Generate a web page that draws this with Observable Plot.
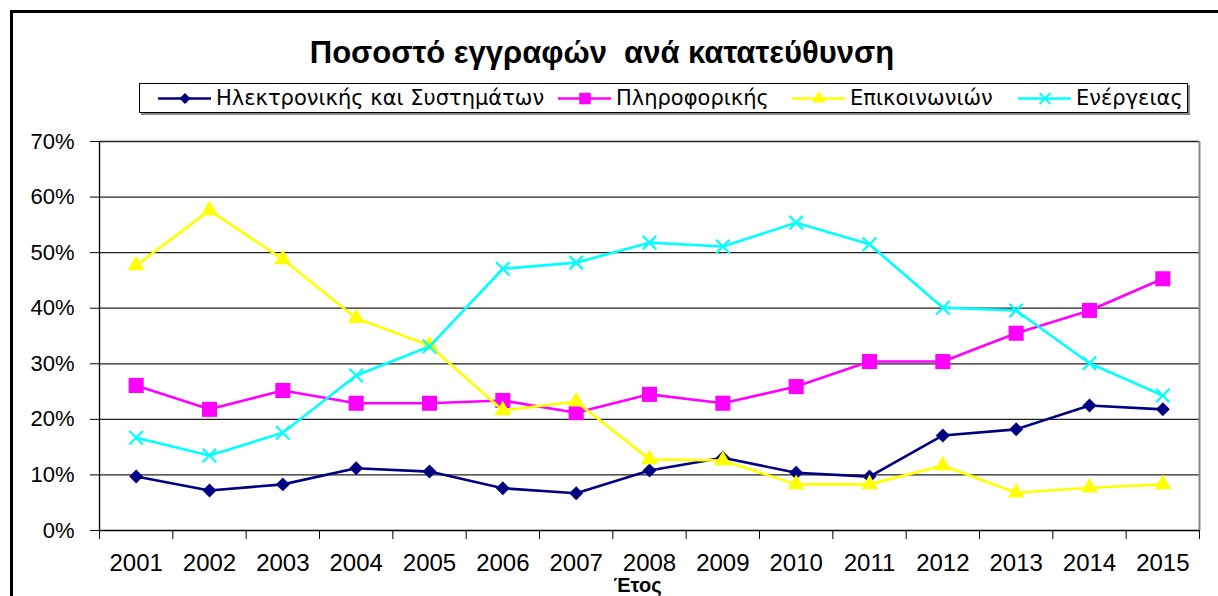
<!DOCTYPE html>
<html>
<head>
<meta charset="utf-8">
<script src="https://cdn.jsdelivr.net/npm/d3@7"></script>
<script src="https://cdn.jsdelivr.net/npm/@observablehq/plot@0.6"></script>
<style>
  html, body { margin: 0; padding: 0; background: #fff; overflow: hidden; }
  #page { position: relative; width: 1218px; height: 596px; overflow: hidden; font-family: "Liberation Sans", Arial, sans-serif; }
  #frame { position: absolute; left: 10px; top: 10px; width: 1300px; height: 700px; border: 3px solid #000; box-sizing: border-box; }
  #title { position: absolute; left: 0; width: 1204px; top: 35px; text-align: center; font-weight: bold; font-size: 31px; color: #000; white-space: pre; }
  #legend { position: absolute; left: 139px; top: 83px; width: 1049px; height: 30px; border: 1px solid #000; box-sizing: border-box; box-shadow: 2px 2px 0 #888; background: #fff; font-family: "DejaVu Sans", sans-serif; font-size: 21px; }
  .item { position: absolute; top: 0; height: 28px; display: flex; align-items: center; white-space: nowrap; }
  .item svg { margin-right: 5px; }
  #chart { position: absolute; left: 0; top: 120px; }
</style>
</head>
<body>
<div id="page">
  <div id="frame"></div>
  <div id="title"></div>
  <div id="legend"></div>
  <div id="chart"></div>
</div>
<script>
const title = "Ποσοστό εγγραφών  ανά κατατεύθυνση";
const xLabel = "Έτος";
const years = [2001, 2002, 2003, 2004, 2005, 2006, 2007, 2008, 2009, 2010, 2011, 2012, 2013, 2014, 2015];
const seriesNames = ["Ηλεκτρονικής και Συστημάτων", "Πληροφορικής", "Επικοινωνιών", "Ενέργειας"];
const seriesColors = ["#000080", "#FF00FF", "#FFFF00", "#00FFFF"];
const seriesSymbols = ["diamond2", "square", "triangle", "times"];
const electronics = [9.7, 7.2, 8.3, 11.2, 10.6, 7.6, 6.7, 10.8, 13.1, 10.4, 9.7, 17.1, 18.2, 22.5, 21.8];
const informatics = [26.1, 21.8, 25.2, 22.9, 22.9, 23.4, 21.2, 24.5, 22.9, 25.9, 30.4, 30.4, 35.5, 39.6, 45.3];
const communications = [47.7, 57.6, 48.8, 38.2, 33.3, 21.6, 23.2, 12.8, 12.6, 8.3, 8.3, 11.7, 6.8, 7.7, 8.3];
const energy = [16.7, 13.5, 17.6, 27.9, 33.1, 47.1, 48.2, 51.8, 51.1, 55.4, 51.5, 40.1, 39.6, 30.1, 24.3];
const yTicks = [0, 0.1, 0.2, 0.3, 0.4, 0.5, 0.6, 0.7];

const allValues = [electronics, informatics, communications, energy];
const symbolR = [6.3, 8.5, 6.3, 6.2];
const legendR = [5, 6.5, 5, 5];
const data = [];
seriesNames.forEach((name, i) => {
  years.forEach((yr, j) => data.push({series: name, year: yr, value: allValues[i][j] / 100, idx: i}));
});
const boundaries = [years[0] - 0.5, ...years.map(y => y + 0.5)];

document.getElementById("title").textContent = title;

// legend
const legendPos = [18, 418, 652, 878];
const leg = document.getElementById("legend");
seriesNames.forEach((name, i) => {
  const it = document.createElement("div");
  it.className = "item";
  it.style.left = legendPos[i] + "px";
  const isTimes = seriesSymbols[i] === "times";
  const sw = Plot.plot({
    width: 53, height: 22, margin: 0,
    x: {domain: [0, 1], axis: null}, y: {domain: [0, 1], axis: null},
    marks: [
      Plot.ruleY([0.5], {x1: 0, x2: 1, stroke: seriesColors[i], strokeWidth: 2.5}),
      Plot.dot([{x: 0.5, y: 0.5}], {x: "x", y: "y", symbol: seriesSymbols[i], r: legendR[i],
        fill: isTimes ? "none" : seriesColors[i], stroke: isTimes ? seriesColors[i] : "none", strokeWidth: 2})
    ]
  });
  it.appendChild(sw);
  const t = document.createElement("span");
  t.textContent = name;
  it.appendChild(t);
  leg.appendChild(it);
});

const seriesMarks = [];
seriesNames.forEach((name, i) => {
  const rows = data.filter(d => d.idx === i);
  const isTimes = seriesSymbols[i] === "times";
  seriesMarks.push(Plot.line(rows, {x: "year", y: "value", stroke: seriesColors[i], strokeWidth: 2.6}));
  seriesMarks.push(Plot.dot(rows, {x: "year", y: "value", symbol: seriesSymbols[i], r: symbolR[i],
    fill: isTimes ? "none" : seriesColors[i], stroke: isTimes ? seriesColors[i] : "none", strokeWidth: 2.2}));
});

const chart = Plot.plot({
  width: 1218,
  height: 476,
  marginTop: 21,
  marginBottom: 66,
  marginLeft: 99,
  marginRight: 19,
  style: {fontFamily: "Liberation Sans, Arial, sans-serif", color: "#000", background: "transparent"},
  x: {type: "linear", domain: [years[0] - 0.5, years[years.length - 1] + 0.5]},
  y: {domain: [0, 0.7]},
  marks: [
    Plot.ruleY(yTicks.slice(1), {stroke: "#222", strokeWidth: 1.3}),
    Plot.ruleX([boundaries[boundaries.length - 1]], {stroke: "#888", strokeWidth: 2}),
    Plot.ruleX([boundaries[0]], {stroke: "#000", strokeWidth: 1.3}),
    Plot.ruleY([0], {stroke: "#000", strokeWidth: 1.3}),
    Plot.axisY({ticks: yTicks, tickFormat: d3.format(".0%"), tickSize: 9, tickPadding: 16, label: null, stroke: "#000", fontSize: 22}),
    Plot.axisX({ticks: boundaries, tickFormat: () => "", tickSize: 9, label: null}),
    Plot.axisX({ticks: years, tickFormat: d => String(d), tickSize: 0, tickPadding: 23, label: null, fontSize: 24}),
    Plot.text([xLabel], {frameAnchor: "bottom", dy: 47, dx: -12, text: d => d, fontWeight: "bold", fontSize: 20, lineAnchor: "top"}),
    ...seriesMarks
  ]
});
document.getElementById("chart").appendChild(chart);
</script>
</body>
</html>
